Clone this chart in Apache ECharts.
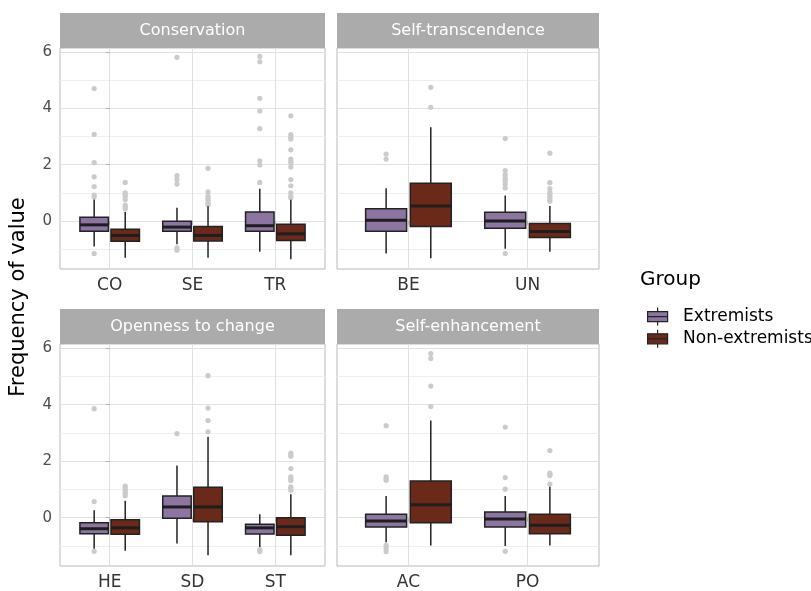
<!DOCTYPE html>
<html><head><meta charset="utf-8">
<script src="https://cdn.jsdelivr.net/npm/echarts@6/dist/echarts.min.js"></script>
<style>html,body{margin:0;padding:0;background:#fff}#c{width:811px;height:591px}</style>
</head><body><div id="c"></div>
<script>
// ---------- data ----------
const groups = ['Extremists', 'Non-extremists'];
const panelTitles = ['Conservation', 'Self-transcendence', 'Openness to change', 'Self-enhancement'];
const catsConservation = ['CO', 'SE', 'TR'];
const catsSelfTrans = ['BE', 'UN'];
const catsOpenness = ['HE', 'SD', 'ST'];
const catsSelfEnh = ['AC', 'PO'];
const yTickLabels = [0, 2, 4, 6];
const yMinorLines = [-1, 1, 3, 5];
const yTitle = 'Frequency of value';
const legendTitle = 'Group';

// box stats per category: [lower whisker, Q1, median, Q3, upper whisker]
const boxConsExt = [[-0.91, -0.37, -0.14, 0.13, 0.76], [-0.83, -0.37, -0.22, -0.01, 0.47], [-1.10, -0.37, -0.17, 0.32, 1.14]];
const boxConsNon = [[-1.31, -0.72, -0.52, -0.30, 0.32], [-1.31, -0.71, -0.52, -0.20, 0.52], [-1.36, -0.70, -0.46, -0.12, 0.75]];
const outConsExt = [[4.71, 3.08, 2.07, 1.57, 1.22, 0.92, 0.85, -1.16], [5.82, 1.61, 1.47, 1.31, -0.96, -1.04], [5.85, 5.66, 4.36, 3.91, 3.28, 2.14, 1.99, 1.37]];
const outConsNon = [[1.37, 1.00, 0.93, 0.88, 0.76, 0.56, 0.48, 0.42], [1.87, 1.03, 0.88, 0.80, 0.72, 0.64, 0.58], [3.74, 3.07, 2.98, 2.91, 2.53, 2.20, 2.13, 2.06, 1.92, 1.47, 1.25, 1.00, 0.88, 0.82]];

const boxTransExt = [[-1.16, -0.37, 0.02, 0.43, 1.16], [-0.99, -0.26, 0.00, 0.31, 0.90]];
const boxTransNon = [[-1.33, -0.20, 0.53, 1.34, 3.33], [-1.10, -0.59, -0.38, -0.09, 0.53]];
const outTransExt = [[2.38, 2.20], [2.93, 1.79, 1.64, 1.52, 1.43, 1.31, 1.17, -1.16]];
const outTransNon = [[4.75, 4.04], [2.41, 1.36, 1.15, 1.02, 0.93, 0.86, 0.78, 0.70]];

const boxOpenExt = [[-1.10, -0.57, -0.39, -0.18, 0.26], [-0.91, -0.02, 0.38, 0.77, 1.85], [-1.04, -0.58, -0.36, -0.23, 0.12]];
const boxOpenNon = [[-1.17, -0.59, -0.36, -0.07, 0.60], [-1.33, -0.14, 0.38, 1.08, 2.87], [-1.33, -0.62, -0.32, 0.00, 0.83]];
const outOpenExt = [[3.86, 0.57, -1.19], [2.98], [-1.13, -1.20]];
const outOpenNon = [[1.12, 1.05, 0.98, 0.92, 0.85, 0.78], [5.03, 3.88, 3.44, 3.04], [2.29, 2.22, 2.18, 1.74, 1.45, 1.38, 1.32, 1.09, 1.03, 0.97]];

const boxEnhExt = [[-0.87, -0.33, -0.12, 0.12, 0.77], [-1.00, -0.33, -0.05, 0.20, 0.77]];
const boxEnhNon = [[-0.98, -0.18, 0.46, 1.30, 3.44], [-0.98, -0.57, -0.27, 0.12, 1.10]];
const outEnhExt = [[3.26, 1.45, 1.38, 1.33, -0.98, -1.08, -1.20], [3.21, 1.42, 1.01, -1.19]];
const outEnhNon = [[5.81, 5.64, 4.66, 3.94], [2.38, 1.58, 1.53, 1.49, 1.19]];

// ---------- styling / layout ----------
const FONT = 'DejaVu Sans';
const groupColors = ['#8d75a1', '#6b2a19'];
const Y_MIN = -1.71, Y_MAX = 6.15;
const DODGE = 0.1875, HALF_BOX = 0.172;

const panels = [
  { title: panelTitles[0], cats: catsConservation, box: [boxConsExt, boxConsNon], out: [outConsExt, outConsNon], left: 60, top: 48, width: 265, height: 221, yLab: true },
  { title: panelTitles[1], cats: catsSelfTrans, box: [boxTransExt, boxTransNon], out: [outTransExt, outTransNon], left: 337, top: 48, width: 262, height: 221, yLab: false },
  { title: panelTitles[2], cats: catsOpenness, box: [boxOpenExt, boxOpenNon], out: [outOpenExt, outOpenNon], left: 60, top: 344, width: 265, height: 222, yLab: true },
  { title: panelTitles[3], cats: catsSelfEnh, box: [boxEnhExt, boxEnhNon], out: [outEnhExt, outEnhNon], left: 337, top: 344, width: 262, height: 222, yLab: false }
];
const STRIP_H = 35;

function boxRender(g) {
  const off = g === 0 ? -DODGE : DODGE;
  return function (params, api) {
    const x = api.value(0) + off;
    const lo = api.coord([x, api.value(1)]);
    const q1 = api.coord([x, api.value(2)]);
    const md = api.coord([x, api.value(3)]);
    const q3 = api.coord([x, api.value(4)]);
    const hi = api.coord([x, api.value(5)]);
    const hw = api.size([HALF_BOX, 0])[0];
    const stroke = { stroke: '#222', lineWidth: 1.5 };
    return {
      type: 'group',
      children: [
        { type: 'line', shape: { x1: lo[0], y1: lo[1], x2: q1[0], y2: q1[1] }, style: stroke },
        { type: 'line', shape: { x1: q3[0], y1: q3[1], x2: hi[0], y2: hi[1] }, style: stroke },
        { type: 'rect', shape: { x: q3[0] - hw, y: q3[1], width: 2 * hw, height: q1[1] - q3[1] },
          style: { fill: groupColors[g], stroke: '#222', lineWidth: 1.5 } },
        { type: 'line', shape: { x1: md[0] - hw, y1: md[1], x2: md[0] + hw, y2: md[1] }, style: { stroke: '#1e1e1e', lineWidth: 3 } }
      ]
    };
  };
}
function outRender(g) {
  const off = g === 0 ? -DODGE : DODGE;
  return function (params, api) {
    const p = api.coord([api.value(0) + off, api.value(1)]);
    return { type: 'circle', shape: { cx: p[0], cy: p[1], r: 2.6 }, style: { fill: '#cbcbcb' } };
  };
}

const grids = [], xAxes = [], yAxes = [], series = [], graphics = [];
panels.forEach((p, gi) => {
  grids.push({ left: p.left, top: p.top, width: p.width, height: p.height, show: true,
    borderColor: '#b9b9b9', borderWidth: 1, backgroundColor: '#fff' });
  const idx = p.cats.map((c, i) => i);
  xAxes.push({ type: 'value', gridIndex: gi, min: -0.6, max: p.cats.length - 0.4,
    axisLine: { show: false }, splitLine: { show: false },
    axisTick: { show: true, length: 4, customValues: idx, lineStyle: { color: '#b3b3b3' } },
    axisLabel: { customValues: idx, formatter: v => p.cats[Math.round(v)], margin: 8,
      fontFamily: FONT, fontSize: 17, color: '#333' } });
  yAxes.push({ type: 'value', gridIndex: gi, min: Y_MIN, max: Y_MAX,
    axisLine: { show: false }, splitLine: { show: false },
    axisTick: { show: p.yLab, length: 4, customValues: yTickLabels, lineStyle: { color: '#b3b3b3' } },
    axisLabel: { show: p.yLab, customValues: yTickLabels, margin: 8, fontFamily: FONT, fontSize: 15, color: '#4d4d4d' } });

  // grid lines
  const ml = [];
  yMinorLines.forEach(v => ml.push({ yAxis: v, lineStyle: { color: '#efefef', width: 1, type: 'solid' } }));
  yTickLabels.forEach(v => ml.push({ yAxis: v, lineStyle: { color: '#e0e0e0', width: 1, type: 'solid' } }));
  idx.forEach(i => ml.push({ xAxis: i, lineStyle: { color: '#e0e0e0', width: 1, type: 'solid' } }));
  series.push({ type: 'custom', name: 'grid' + gi, xAxisIndex: gi, yAxisIndex: gi, z: 1,
    data: [], renderItem: () => null,
    markLine: { silent: true, z: 0, symbol: ['none', 'none'], label: { show: false }, animation: false, data: ml } });

  [0, 1].forEach(g => {
    const outData = [];
    p.out[g].forEach((vals, i) => vals.forEach(v => outData.push([i, v])));
    series.push({ type: 'custom', name: groups[g] + ' outliers', xAxisIndex: gi, yAxisIndex: gi, z: 2,
      data: outData, encode: { x: 0, y: 1 }, renderItem: outRender(g) });
  });
  [0, 1].forEach(g => {
    series.push({ type: 'custom', name: groups[g], xAxisIndex: gi, yAxisIndex: gi, z: 3,
      itemStyle: { color: groupColors[g] },
      data: p.box[g].map((b, i) => [i].concat(b)), encode: { x: 0, y: [1, 2, 3, 4, 5] },
      renderItem: boxRender(g) });
  });

  graphics.push({ type: 'rect', shape: { x: p.left, y: p.top - STRIP_H, width: p.width, height: STRIP_H },
    style: { fill: '#ababab' } });
  graphics.push({ type: 'text', x: p.left + p.width / 2, y: p.top - STRIP_H / 2,
    style: { text: p.title, fill: '#fff', font: '16px "' + FONT + '"', align: 'center', verticalAlign: 'middle',
      textAlign: 'center', textVerticalAlign: 'middle' } });
});

graphics.push({ type: 'text', x: 19, y: 297, rotation: Math.PI / 2,
  style: { text: yTitle, fill: '#000', font: '21px "' + FONT + '"', align: 'center', verticalAlign: 'middle',
    textAlign: 'center', textVerticalAlign: 'middle' } });
graphics.push({ type: 'text', x: 640, y: 280,
  style: { text: legendTitle, fill: '#000', font: '20px "' + FONT + '"', align: 'left', verticalAlign: 'middle',
    textAlign: 'left', textVerticalAlign: 'middle' } });

const keyIcon = 'path://M10,0V4 M0,4H20V14H0Z M0,9H20 M10,14V18';
const option = {
  animation: false,
  grid: grids, xAxis: xAxes, yAxis: yAxes, series: series,
  graphic: graphics,
  legend: {
    left: 642, top: 302, orient: 'vertical', itemWidth: 21, itemHeight: 18, itemGap: 3,
    icon: keyIcon, selectedMode: false,
    textStyle: { fontFamily: FONT, fontSize: 17, color: '#000', padding: [0, 0, 0, 10] },
    data: groups.map((gname, g) => ({ name: gname, icon: keyIcon,
      itemStyle: { color: groupColors[g], borderColor: '#222', borderWidth: 1.2 } }))
  }
};
const chart = echarts.init(document.getElementById('c'), null, { renderer: 'canvas' });
chart.setOption(option);
</script></body></html>
